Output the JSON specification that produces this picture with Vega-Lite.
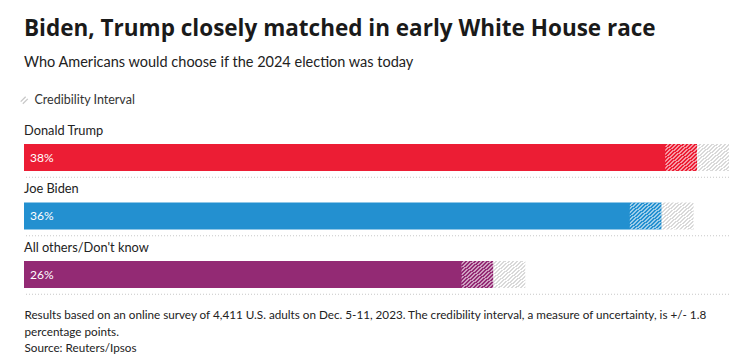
{
  "$schema": "https://vega.github.io/schema/vega-lite/v6.json",
  "width": 705,
  "height": 175.5,
  "padding": {"left": 18, "right": 27, "top": 18, "bottom": 4},
  "background": "white",
  "config": {
    "view": {"stroke": null},
    "font": "Lato"
  },
  "title": {
    "text": "Biden, Trump closely matched in early White House race",
    "subtitle": "Who Americans would choose if the 2024 election was today",
    "anchor": "start",
    "frame": "group",
    "font": "Open Sans",
    "fontSize": 22.5,
    "fontWeight": "bold",
    "color": "#1a1a1a",
    "subtitleFont": "Lato",
    "subtitleFontSize": 14.5,
    "subtitleColor": "#222222",
    "subtitlePadding": 15,
    "offset": 25
  },
  "data": {
    "values": [
      {"name": "Donald Trump", "label": "38%", "value": 38, "lo": 36.2, "hi": 39.8, "ci": "Credibility Interval"},
      {"name": "Joe Biden", "label": "36%", "value": 36, "lo": 34.2, "hi": 37.8, "ci": "Credibility Interval"},
      {"name": "All others/Don't know", "label": "26%", "value": 26.5, "lo": 24.7, "hi": 28.3, "ci": "Credibility Interval"}
    ]
  },
  "encoding": {
    "y": {"field": "name", "type": "nominal", "sort": null, "axis": null, "scale": {"paddingInner": 0, "paddingOuter": 0}}
  },
  "layer": [
    {
      "mark": {"type": "rule", "strokeDash": [1, 2], "color": "#c8c8c8", "strokeWidth": 1, "yOffset": 28},
      "encoding": {}
    },
    {
      "mark": {"type": "bar", "height": 27, "yOffset": 8.25},
      "encoding": {
        "x": {"field": "value", "type": "quantitative", "scale": {"domain": [0, 39.8], "nice": false, "zero": true},
          "axis": {"labels": false, "ticks": false, "domain": false, "grid": false,
            "title": ["Results based on an online survey of 4,411 U.S. adults on Dec. 5-11, 2023. The credibility interval, a measure of uncertainty, is +/- 1.8", "percentage points.", "Source: Reuters/Ipsos"],
            "titleAnchor": "start", "titleAlign": "left", "titleFont": "Lato", "titleFontSize": 11.7, "titleFontWeight": "normal", "titleColor": "#222222", "titleLineHeight": 16.5, "titlePadding": 14}},
        "color": {"field": "name", "type": "nominal", "legend": null,
          "scale": {"domain": ["Donald Trump", "Joe Biden", "All others/Don't know"], "range": ["#EC1D34", "#2390D0", "#932A74"]}}
      }
    },
    {
      "mark": {"type": "bar", "height": 27, "yOffset": 8.25,
        "fill": {"gradient": "linear", "x1": 0, "y1": 0, "x2": 1, "y2": 1, "stops": [
          {"offset": 0, "color": "rgba(255,255,255,0)"}, {"offset": 0.0333, "color": "rgba(255,255,255,0)"},
          {"offset": 0.0333, "color": "rgba(255,255,255,0.55)"}, {"offset": 0.0667, "color": "rgba(255,255,255,0.55)"},
          {"offset": 0.0667, "color": "rgba(255,255,255,0)"}, {"offset": 0.1, "color": "rgba(255,255,255,0)"},
          {"offset": 0.1, "color": "rgba(255,255,255,0.55)"}, {"offset": 0.1333, "color": "rgba(255,255,255,0.55)"},
          {"offset": 0.1333, "color": "rgba(255,255,255,0)"}, {"offset": 0.1667, "color": "rgba(255,255,255,0)"},
          {"offset": 0.1667, "color": "rgba(255,255,255,0.55)"}, {"offset": 0.2, "color": "rgba(255,255,255,0.55)"},
          {"offset": 0.2, "color": "rgba(255,255,255,0)"}, {"offset": 0.2333, "color": "rgba(255,255,255,0)"},
          {"offset": 0.2333, "color": "rgba(255,255,255,0.55)"}, {"offset": 0.2667, "color": "rgba(255,255,255,0.55)"},
          {"offset": 0.2667, "color": "rgba(255,255,255,0)"}, {"offset": 0.3, "color": "rgba(255,255,255,0)"},
          {"offset": 0.3, "color": "rgba(255,255,255,0.55)"}, {"offset": 0.3333, "color": "rgba(255,255,255,0.55)"},
          {"offset": 0.3333, "color": "rgba(255,255,255,0)"}, {"offset": 0.3667, "color": "rgba(255,255,255,0)"},
          {"offset": 0.3667, "color": "rgba(255,255,255,0.55)"}, {"offset": 0.4, "color": "rgba(255,255,255,0.55)"},
          {"offset": 0.4, "color": "rgba(255,255,255,0)"}, {"offset": 0.4333, "color": "rgba(255,255,255,0)"},
          {"offset": 0.4333, "color": "rgba(255,255,255,0.55)"}, {"offset": 0.4667, "color": "rgba(255,255,255,0.55)"},
          {"offset": 0.4667, "color": "rgba(255,255,255,0)"}, {"offset": 0.5, "color": "rgba(255,255,255,0)"},
          {"offset": 0.5, "color": "rgba(255,255,255,0.55)"}, {"offset": 0.5333, "color": "rgba(255,255,255,0.55)"},
          {"offset": 0.5333, "color": "rgba(255,255,255,0)"}, {"offset": 0.5667, "color": "rgba(255,255,255,0)"},
          {"offset": 0.5667, "color": "rgba(255,255,255,0.55)"}, {"offset": 0.6, "color": "rgba(255,255,255,0.55)"},
          {"offset": 0.6, "color": "rgba(255,255,255,0)"}, {"offset": 0.6333, "color": "rgba(255,255,255,0)"},
          {"offset": 0.6333, "color": "rgba(255,255,255,0.55)"}, {"offset": 0.6667, "color": "rgba(255,255,255,0.55)"},
          {"offset": 0.6667, "color": "rgba(255,255,255,0)"}, {"offset": 0.7, "color": "rgba(255,255,255,0)"},
          {"offset": 0.7, "color": "rgba(255,255,255,0.55)"}, {"offset": 0.7333, "color": "rgba(255,255,255,0.55)"},
          {"offset": 0.7333, "color": "rgba(255,255,255,0)"}, {"offset": 0.7667, "color": "rgba(255,255,255,0)"},
          {"offset": 0.7667, "color": "rgba(255,255,255,0.55)"}, {"offset": 0.8, "color": "rgba(255,255,255,0.55)"},
          {"offset": 0.8, "color": "rgba(255,255,255,0)"}, {"offset": 0.8333, "color": "rgba(255,255,255,0)"},
          {"offset": 0.8333, "color": "rgba(255,255,255,0.55)"}, {"offset": 0.8667, "color": "rgba(255,255,255,0.55)"},
          {"offset": 0.8667, "color": "rgba(255,255,255,0)"}, {"offset": 0.9, "color": "rgba(255,255,255,0)"},
          {"offset": 0.9, "color": "rgba(255,255,255,0.55)"}, {"offset": 0.9333, "color": "rgba(255,255,255,0.55)"},
          {"offset": 0.9333, "color": "rgba(255,255,255,0)"}, {"offset": 0.9667, "color": "rgba(255,255,255,0)"},
          {"offset": 0.9667, "color": "rgba(255,255,255,0.55)"}, {"offset": 1, "color": "rgba(255,255,255,0.55)"}
        ]}},
      "encoding": {
        "x": {"field": "lo", "type": "quantitative"},
        "x2": {"field": "value"}
      }
    },
    {
      "mark": {"type": "bar", "height": 27, "yOffset": 8.25,
        "fill": {"gradient": "linear", "x1": 0, "y1": 0, "x2": 1, "y2": 1, "stops": [
          {"offset": 0, "color": "#ffffff"}, {"offset": 0.0333, "color": "#ffffff"},
          {"offset": 0.0333, "color": "#d9d9d9"}, {"offset": 0.0667, "color": "#d9d9d9"},
          {"offset": 0.0667, "color": "#ffffff"}, {"offset": 0.1, "color": "#ffffff"},
          {"offset": 0.1, "color": "#d9d9d9"}, {"offset": 0.1333, "color": "#d9d9d9"},
          {"offset": 0.1333, "color": "#ffffff"}, {"offset": 0.1667, "color": "#ffffff"},
          {"offset": 0.1667, "color": "#d9d9d9"}, {"offset": 0.2, "color": "#d9d9d9"},
          {"offset": 0.2, "color": "#ffffff"}, {"offset": 0.2333, "color": "#ffffff"},
          {"offset": 0.2333, "color": "#d9d9d9"}, {"offset": 0.2667, "color": "#d9d9d9"},
          {"offset": 0.2667, "color": "#ffffff"}, {"offset": 0.3, "color": "#ffffff"},
          {"offset": 0.3, "color": "#d9d9d9"}, {"offset": 0.3333, "color": "#d9d9d9"},
          {"offset": 0.3333, "color": "#ffffff"}, {"offset": 0.3667, "color": "#ffffff"},
          {"offset": 0.3667, "color": "#d9d9d9"}, {"offset": 0.4, "color": "#d9d9d9"},
          {"offset": 0.4, "color": "#ffffff"}, {"offset": 0.4333, "color": "#ffffff"},
          {"offset": 0.4333, "color": "#d9d9d9"}, {"offset": 0.4667, "color": "#d9d9d9"},
          {"offset": 0.4667, "color": "#ffffff"}, {"offset": 0.5, "color": "#ffffff"},
          {"offset": 0.5, "color": "#d9d9d9"}, {"offset": 0.5333, "color": "#d9d9d9"},
          {"offset": 0.5333, "color": "#ffffff"}, {"offset": 0.5667, "color": "#ffffff"},
          {"offset": 0.5667, "color": "#d9d9d9"}, {"offset": 0.6, "color": "#d9d9d9"},
          {"offset": 0.6, "color": "#ffffff"}, {"offset": 0.6333, "color": "#ffffff"},
          {"offset": 0.6333, "color": "#d9d9d9"}, {"offset": 0.6667, "color": "#d9d9d9"},
          {"offset": 0.6667, "color": "#ffffff"}, {"offset": 0.7, "color": "#ffffff"},
          {"offset": 0.7, "color": "#d9d9d9"}, {"offset": 0.7333, "color": "#d9d9d9"},
          {"offset": 0.7333, "color": "#ffffff"}, {"offset": 0.7667, "color": "#ffffff"},
          {"offset": 0.7667, "color": "#d9d9d9"}, {"offset": 0.8, "color": "#d9d9d9"},
          {"offset": 0.8, "color": "#ffffff"}, {"offset": 0.8333, "color": "#ffffff"},
          {"offset": 0.8333, "color": "#d9d9d9"}, {"offset": 0.8667, "color": "#d9d9d9"},
          {"offset": 0.8667, "color": "#ffffff"}, {"offset": 0.9, "color": "#ffffff"},
          {"offset": 0.9, "color": "#d9d9d9"}, {"offset": 0.9333, "color": "#d9d9d9"},
          {"offset": 0.9333, "color": "#ffffff"}, {"offset": 0.9667, "color": "#ffffff"},
          {"offset": 0.9667, "color": "#d9d9d9"}, {"offset": 1, "color": "#d9d9d9"}
        ]}},
      "encoding": {
        "x": {"field": "value", "type": "quantitative"},
        "x2": {"field": "hi"}
      }
    },
    {
      "mark": {"type": "text", "align": "left", "baseline": "middle", "yOffset": -18.5, "fontSize": 12.8, "color": "#222222", "font": "Lato"},
      "encoding": {
        "x": {"datum": 0, "type": "quantitative"},
        "text": {"field": "name"}
      }
    },
    {
      "mark": {"type": "text", "align": "left", "baseline": "middle", "yOffset": 8.25, "dx": 6, "fontSize": 12, "color": "white", "font": "Lato"},
      "encoding": {
        "x": {"datum": 0, "type": "quantitative"},
        "text": {"field": "label"}
      }
    },
    {
      "mark": {"type": "point", "opacity": 0},
      "encoding": {
        "x": {"field": "value", "type": "quantitative"},
        "shape": {"field": "ci", "type": "nominal",
          "scale": {"range": ["M-1,0.4L0.4,-1M-0.4,1L1,-0.4"]},
          "legend": {"title": null, "orient": "none", "legendX": -6, "legendY": -26, "padding": 0,
            "symbolStrokeColor": "#c8c8c8", "symbolStrokeWidth": 1.3, "symbolOpacity": 1, "symbolSize": 50,
            "labelFont": "Lato", "labelFontSize": 12.5, "labelColor": "#333333", "labelOffset": 4}}
      }
    }
  ]
}
